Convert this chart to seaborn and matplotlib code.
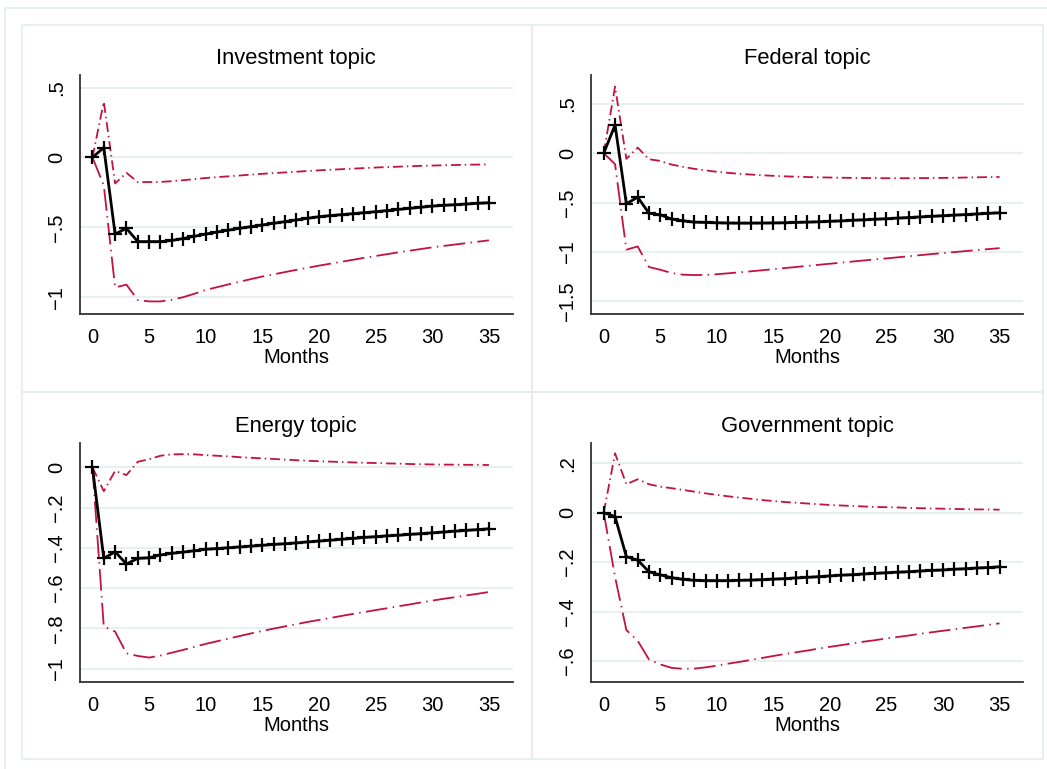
import matplotlib
matplotlib.use("Agg")
import matplotlib.pyplot as plt
import matplotlib.patches as mpatches
import seaborn as sns

# Impulse responses (months 0..35)
months = list(range(36))

titles = ["Investment topic", "Federal topic", "Energy topic", "Government topic"]

inv_irf = [0, 0.071, -0.548, -0.507, -0.602, -0.602, -0.602, -0.594, -0.58, -0.564, -0.548, -0.534,
           -0.52, -0.507, -0.495, -0.483, -0.471, -0.459, -0.447, -0.435, -0.424, -0.416, -0.409,
           -0.402, -0.395, -0.388, -0.38, -0.372, -0.364, -0.356, -0.348, -0.343, -0.338, -0.333,
           -0.328, -0.324]
inv_upper = [0, 0.398, -0.186, -0.11, -0.176, -0.176, -0.175, -0.17, -0.163, -0.155, -0.147, -0.141,
             -0.135, -0.129, -0.123, -0.117, -0.112, -0.107, -0.102, -0.097, -0.092, -0.088, -0.084,
             -0.080, -0.076, -0.072, -0.069, -0.066, -0.063, -0.060, -0.058, -0.056, -0.054, -0.052,
             -0.051, -0.05]
inv_lower = [0, -0.2, -0.93, -0.91, -1.02, -1.03, -1.03, -1.018, -1.0, -0.975, -0.948, -0.928,
             -0.908, -0.889, -0.87, -0.852, -0.836, -0.82, -0.804, -0.789, -0.774, -0.76, -0.746,
             -0.732, -0.718, -0.705, -0.692, -0.679, -0.667, -0.655, -0.643, -0.633, -0.623, -0.613,
             -0.603, -0.593]

fed_irf = [0, 0.286, -0.512, -0.445, -0.607, -0.624, -0.667, -0.684, -0.698, -0.701, -0.704, -0.707,
           -0.708, -0.708, -0.707, -0.706, -0.704, -0.701, -0.698, -0.694, -0.690, -0.685, -0.680,
           -0.674, -0.669, -0.663, -0.657, -0.651, -0.645, -0.639, -0.633, -0.627, -0.621, -0.615,
           -0.609, -0.603]
fed_upper = [0, 0.674, -0.057, 0.057, -0.061, -0.078, -0.115, -0.138, -0.158, -0.174, -0.188, -0.199,
             -0.208, -0.216, -0.223, -0.229, -0.234, -0.238, -0.241, -0.244, -0.246, -0.248, -0.25,
             -0.251, -0.252, -0.253, -0.253, -0.253, -0.252, -0.251, -0.25, -0.248, -0.246, -0.244,
             -0.242, -0.24]
fed_lower = [0, -0.111, -0.977, -0.944, -1.152, -1.18, -1.213, -1.23, -1.234, -1.232, -1.225, -1.216,
             -1.206, -1.196, -1.185, -1.174, -1.163, -1.152, -1.141, -1.13, -1.119, -1.108, -1.097,
             -1.086, -1.075, -1.065, -1.054, -1.043, -1.032, -1.021, -1.011, -1.001, -0.991, -0.981,
             -0.971, -0.961]

en_irf = [0, -0.452, -0.419, -0.48, -0.452, -0.449, -0.435, -0.427, -0.421, -0.414, -0.407, -0.403,
          -0.399, -0.395, -0.391, -0.387, -0.383, -0.379, -0.375, -0.37, -0.366, -0.362, -0.357,
          -0.353, -0.348, -0.344, -0.340, -0.337, -0.333, -0.329, -0.325, -0.321, -0.317, -0.313,
          -0.309, -0.305]
en_upper = [0, -0.118, -0.017, -0.038, 0.028, 0.041, 0.058, 0.065, 0.066, 0.065, 0.061, 0.058,
            0.055, 0.051, 0.048, 0.045, 0.042, 0.039, 0.036, 0.033, 0.031, 0.029, 0.027, 0.025,
            0.023, 0.022, 0.020, 0.019, 0.017, 0.016, 0.015, 0.014, 0.014, 0.013, 0.013, 0.012]
en_lower = [0, -0.791, -0.816, -0.924, -0.937, -0.945, -0.935, -0.921, -0.907, -0.892, -0.877, -0.864,
            -0.851, -0.838, -0.825, -0.813, -0.801, -0.79, -0.779, -0.768, -0.758, -0.748, -0.738,
            -0.728, -0.719, -0.709, -0.7, -0.69, -0.681, -0.671, -0.662, -0.653, -0.645, -0.636,
            -0.628, -0.619]

gov_irf = [0, -0.016, -0.178, -0.192, -0.239, -0.252, -0.263, -0.27, -0.274, -0.275, -0.275, -0.275,
           -0.274, -0.273, -0.271, -0.269, -0.267, -0.264, -0.262, -0.259, -0.256, -0.253, -0.251,
           -0.248, -0.246, -0.243, -0.241, -0.239, -0.236, -0.234, -0.232, -0.229, -0.227, -0.224,
           -0.222, -0.219]
gov_upper = [0, 0.24, 0.115, 0.135, 0.115, 0.105, 0.099, 0.092, 0.085, 0.078, 0.072, 0.066,
             0.061, 0.056, 0.051, 0.047, 0.043, 0.040, 0.037, 0.034, 0.031, 0.029, 0.027, 0.025,
             0.023, 0.022, 0.021, 0.019, 0.018, 0.017, 0.016, 0.015, 0.014, 0.013, 0.013, 0.012]
gov_lower = [0, -0.26, -0.475, -0.518, -0.594, -0.614, -0.628, -0.632, -0.631, -0.626, -0.619, -0.611,
             -0.604, -0.596, -0.588, -0.58, -0.572, -0.565, -0.558, -0.55, -0.543, -0.536, -0.529,
             -0.522, -0.516, -0.509, -0.503, -0.497, -0.49, -0.484, -0.478, -0.472, -0.466, -0.46,
             -0.454, -0.448]

# y ticks and Stata-style labels per panel
inv_ticks = [-1, -0.5, 0, 0.5]
inv_labels = ["\u22121", "\u2212.5", "0", ".5"]
fed_ticks = [-1.5, -1, -0.5, 0, 0.5]
fed_labels = ["\u22121.5", "\u22121", "\u2212.5", "0", ".5"]
en_ticks = [-1, -0.8, -0.6, -0.4, -0.2, 0]
en_labels = ["\u22121", "\u2212.8", "\u2212.6", "\u2212.4", "\u2212.2", "0"]
gov_ticks = [-0.6, -0.4, -0.2, 0, 0.2]
gov_labels = ["\u2212.6", "\u2212.4", "\u2212.2", "0", ".2"]
x_ticks = [0, 5, 10, 15, 20, 25, 30, 35]

sns.set_style("white")
plt.rcParams["font.family"] = ["Liberation Sans", "DejaVu Sans"]
plt.rcParams["text.color"] = "black"
plt.rcParams["axes.labelcolor"] = "black"
plt.rcParams["xtick.labelcolor"] = "black"
plt.rcParams["ytick.labelcolor"] = "black"

W, H = 1047, 769
fig = plt.figure(figsize=(W / 100, H / 100), dpi=100)
fig.patch.set_facecolor("white")

band_color = "#C4123F"
frame_color = "#E4ECEF"


def px_rect(x0, y0, x1, y1):
    return [x0 / W, 1 - y1 / H, (x1 - x0) / W, (y1 - y0) / H]


# outer frame and panel frames
for (x0, y0, x1, y1) in [(5, 8, 1052, 775), (22, 25, 532, 392), (532, 25, 1043, 392),
                         (22, 392, 532, 759), (532, 392, 1043, 759)]:
    r = px_rect(x0, y0, x1, y1)
    fig.patches.append(mpatches.Rectangle((r[0], r[1]), r[2], r[3], transform=fig.transFigure,
                                          fill=False, edgecolor=frame_color, lw=1.2))

panels = [
    (inv_irf, inv_upper, inv_lower, inv_ticks, inv_labels, (-1.12, 0.59), px_rect(80, 75, 512.7, 314)),
    (fed_irf, fed_upper, fed_lower, fed_ticks, fed_labels, (-1.628, 0.792), px_rect(591.3, 75, 1023.3, 314)),
    (en_irf, en_upper, en_lower, en_ticks, en_labels, (-1.065, 0.123), px_rect(80, 442.7, 512.7, 681.7)),
    (gov_irf, gov_upper, gov_lower, gov_ticks, gov_labels, (-0.684, 0.283), px_rect(591.3, 442.7, 1023.3, 681.7)),
]

for title, (irf, upper, lower, yt, yl, ylim, pos) in zip(titles, panels):
    ax = fig.add_axes(pos)
    ax.set_facecolor("white")
    for y in yt:
        ax.axhline(y, color="#E6EEF0", lw=1.3, zorder=0)

    sns.lineplot(x=months, y=upper, ax=ax, color=band_color, lw=1.3,
                 linestyle=(0, (5.5, 2.2, 0.8, 2.2)), zorder=2)
    sns.lineplot(x=months, y=lower, ax=ax, color=band_color, lw=1.3,
                 linestyle=(0, (12, 3, 0.8, 3)), zorder=2)
    sns.lineplot(x=months, y=irf, ax=ax, color="black", lw=2.0, marker="+",
                 markersize=10, markeredgewidth=1.6, markeredgecolor="black", zorder=3)

    ax.set_xlim(-1.1, 37.1)
    ax.set_ylim(*ylim)
    ax.set_xticks(x_ticks)
    ax.set_xticklabels([str(t) for t in x_ticks], fontsize=14.5)
    ax.set_yticks(yt)
    ax.set_yticklabels(yl, fontsize=14.5, rotation=90, va="center")
    ax.tick_params(axis="both", length=6, width=1.2, color="#333333", direction="out", pad=4)
    for s in ["top", "right"]:
        ax.spines[s].set_visible(False)
    for s in ["left", "bottom"]:
        ax.spines[s].set_color("#333333")
        ax.spines[s].set_linewidth(1.3)
    ax.set_xlabel("Months", fontsize=14.5, labelpad=1)
    ax.set_ylabel("")
    ax.set_title(title, fontsize=15.8, pad=8)

fig.savefig("out.png", dpi=100, facecolor="white")
